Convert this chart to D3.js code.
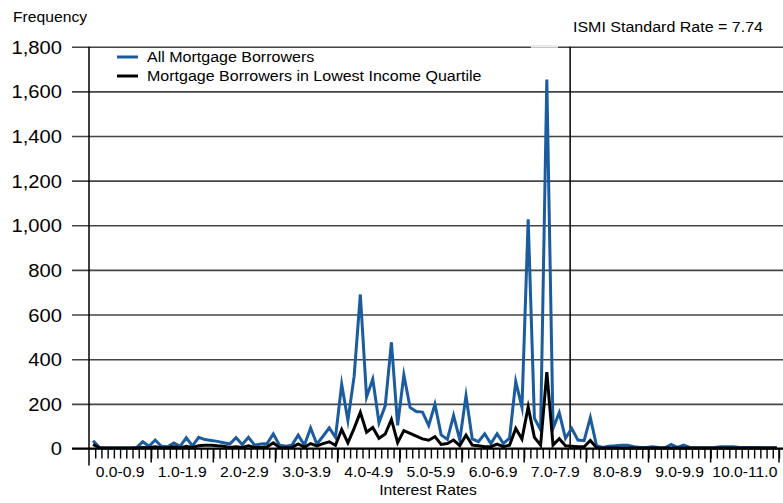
<!DOCTYPE html>
<html><head><meta charset="utf-8">
<script src="https://cdn.jsdelivr.net/npm/d3@7"></script>
<style>
html,body{margin:0;padding:0;background:#fff;}
svg{display:block;font-family:"Liberation Sans",Arial,sans-serif;}
</style></head>
<body><svg id="c" width="783" height="503"></svg>
<script>
const rates = ["0.0","0.1","0.2","0.3","0.4","0.5","0.6","0.7","0.8","0.9",
"1.0","1.1","1.2","1.3","1.4","1.5","1.6","1.7","1.8","1.9",
"2.0","2.1","2.2","2.3","2.4","2.5","2.6","2.7","2.8","2.9",
"3.0","3.1","3.2","3.3","3.4","3.5","3.6","3.7","3.8","3.9",
"4.0","4.1","4.2","4.3","4.4","4.5","4.6","4.7","4.8","4.9",
"5.0","5.1","5.2","5.3","5.4","5.5","5.6","5.7","5.8","5.9",
"6.0","6.1","6.2","6.3","6.4","6.5","6.6","6.7","6.8","6.9",
"7.0","7.1","7.2","7.3","7.4","7.5","7.6","7.7","7.8","7.9",
"8.0","8.1","8.2","8.3","8.4","8.5","8.6","8.7","8.8","8.9",
"9.0","9.1","9.2","9.3","9.4","9.5","9.6","9.7","9.8","9.9",
"10.0","10.1","10.2","10.3","10.4","10.5","10.6","10.7","10.8","10.9","11.0"];

const allBorrowers = [35,5,2,2,2,2,2,4,30,10,
38,10,8,25,10,48,12,50,40,36,
32,26,20,48,18,50,15,20,22,65,
15,10,15,60,15,92,20,55,92,50,
288,125,323,690,230,311,116,191,476,104,
330,184,166,163,103,198,61,41,148,38,
236,43,31,66,22,66,22,46,300,185,
1027,136,83,1653,90,160,46,90,38,35,
139,12,5,10,12,15,15,8,5,5,
8,5,3,18,5,15,5,3,3,3,
5,8,8,8,5,5,5,5,3,3,3];

const lowestQuartile = [18,3,2,2,2,2,2,2,5,3,
8,3,3,8,3,10,5,12,15,15,
12,10,5,8,5,12,5,5,8,25,
5,3,5,20,5,22,12,22,30,14,
85,25,90,162,73,94,46,65,130,26,
80,68,55,43,37,53,18,22,38,13,
60,15,12,8,8,20,8,15,90,42,
186,50,15,342,15,44,12,10,8,8,
36,3,2,2,2,2,2,2,2,2,
2,2,2,2,2,2,2,2,2,2,
2,2,2,2,2,2,2,2,2,2,2];

const groupLabels = ["0.0-0.9","1.0-1.9","2.0-2.9","3.0-3.9","4.0-4.9","5.0-5.9","6.0-6.9","7.0-7.9","8.0-8.9","9.0-9.9","10.0-11.0"];
const groupStarts = [0,10,20,30,40,50,60,70,80,90,100,111];
const yTicks = [0,200,400,600,800,1000,1200,1400,1600,1800];
const standardRate = 7.74;
const standardLabel = "ISMI Standard Rate = 7.74";
const seriesNames = ["All Mortgage Borrowers","Mortgage Borrowers in Lowest Income Quartile"];
const seriesColors = ["#1b5c9e","#000000"];

const svg = d3.select("#c");
const X0 = 89, X1 = 779, Y0 = 448.5, Y1 = 46.7;
const SX = 1.12;

const x = d3.scaleBand().domain(rates).range([X0, X1]).padding(0);
const xb = d3.scaleLinear().domain([0, rates.length]).range([X0, X1]);
const y = d3.scaleLinear().domain([0, 1800]).range([Y0, Y1]);
const px = r => x(r) + x.bandwidth() * 0.65;

function txt(g, tx, ty, s, size, anchor){
  return g.append("text")
    .attr("transform", `translate(${tx},${ty}) scale(${SX},1)`)
    .attr("text-anchor", anchor || "start")
    .attr("font-size", size)
    .attr("fill", "#000")
    .text(s);
}

// y axis with gridlines
const yAx = svg.append("g").attr("transform", `translate(${783},0)`)
  .call(d3.axisLeft(y).tickValues(yTicks).tickSize(783 - 72).tickPadding(0).tickFormat(d3.format(",")));
yAx.select(".domain").remove();
yAx.selectAll(".tick line").attr("stroke", "#444").attr("stroke-width", 1.6);
yAx.selectAll(".tick text").each(function(){
  const t = d3.select(this);
  t.attr("x", null).attr("dy", "0.36em")
   .attr("transform", `translate(${62 - 783},0) scale(${SX},1)`)
   .attr("text-anchor", "end")
   .attr("font-size", 18).attr("fill", "#000")
   .attr("font-family", '"Liberation Sans",Arial,sans-serif');
});
// small gap in top gridline (as in reference)
svg.append("line").attr("x1", 531).attr("x2", 558).attr("y1", y(1800)).attr("y2", y(1800))
  .attr("stroke", "#fff").attr("stroke-width", 2);
svg.append("line").attr("x1", 531).attr("x2", 558).attr("y1", y(1800) - 0.8).attr("y2", y(1800) - 0.8)
  .attr("stroke", "#bbb").attr("stroke-width", 0.6);

// y axis line
svg.append("line").attr("x1", X0).attr("x2", X0).attr("y1", Y1).attr("y2", Y0 + 17)
  .attr("stroke", "#000").attr("stroke-width", 1.5);

// x axis minor ticks
const xAx = svg.append("g").attr("transform", `translate(0,${Y0})`)
  .call(d3.axisBottom(xb).tickValues(d3.range(1, rates.length + 1)).tickSize(10).tickFormat(""));
xAx.select(".domain").remove();
xAx.selectAll(".tick line").attr("stroke", "#000").attr("stroke-width", 1.4);
// major ticks
svg.append("g").selectAll("line").data(groupStarts.slice(1)).join("line")
  .attr("x1", d => xb(d)).attr("x2", d => xb(d))
  .attr("y1", Y0).attr("y2", Y0 + 14)
  .attr("stroke", "#000").attr("stroke-width", 1.5);
// baseline
svg.append("line").attr("x1", 72).attr("x2", 783).attr("y1", Y0).attr("y2", Y0)
  .attr("stroke", "#000").attr("stroke-width", 2);

// group labels
const gl = svg.append("g");
groupLabels.forEach((s, i) => {
  const cx = (xb(groupStarts[i]) + xb(groupStarts[i + 1])) / 2;
  txt(gl, cx, 477, s, 14, "middle");
});

// standard rate line (7.74 on the continuous rate axis)
const sx = xb(standardRate * 10);
svg.append("line")
  .attr("x1", sx).attr("x2", sx)
  .attr("y1", Y1).attr("y2", Y0).attr("stroke", "#000").attr("stroke-width", 1.5);

// series lines
const line = d3.line().x((d, i) => px(rates[i])).y(d => y(d));
[allBorrowers, lowestQuartile].forEach((arr, k) => {
  svg.append("path").datum(arr).attr("d", line)
    .attr("fill", "none").attr("stroke", seriesColors[k])
    .attr("stroke-width", 3).attr("stroke-linejoin", "miter").attr("stroke-miterlimit", 10);
});

// legend
const lg = svg.append("g");
seriesNames.forEach((s, i) => {
  const ly = 57 + i * 19;
  lg.append("line").attr("x1", 117).attr("x2", 138).attr("y1", ly).attr("y2", ly)
    .attr("stroke", seriesColors[i]).attr("stroke-width", 3);
  txt(lg, 147, ly + 5, s, 14.3, "start");
});

// titles
txt(svg, 13, 22, "Frequency", 14, "start");
txt(svg, 573, 32, standardLabel, 14.3, "start");
txt(svg, 428, 495, "Interest Rates", 14, "middle");
</script></body></html>
